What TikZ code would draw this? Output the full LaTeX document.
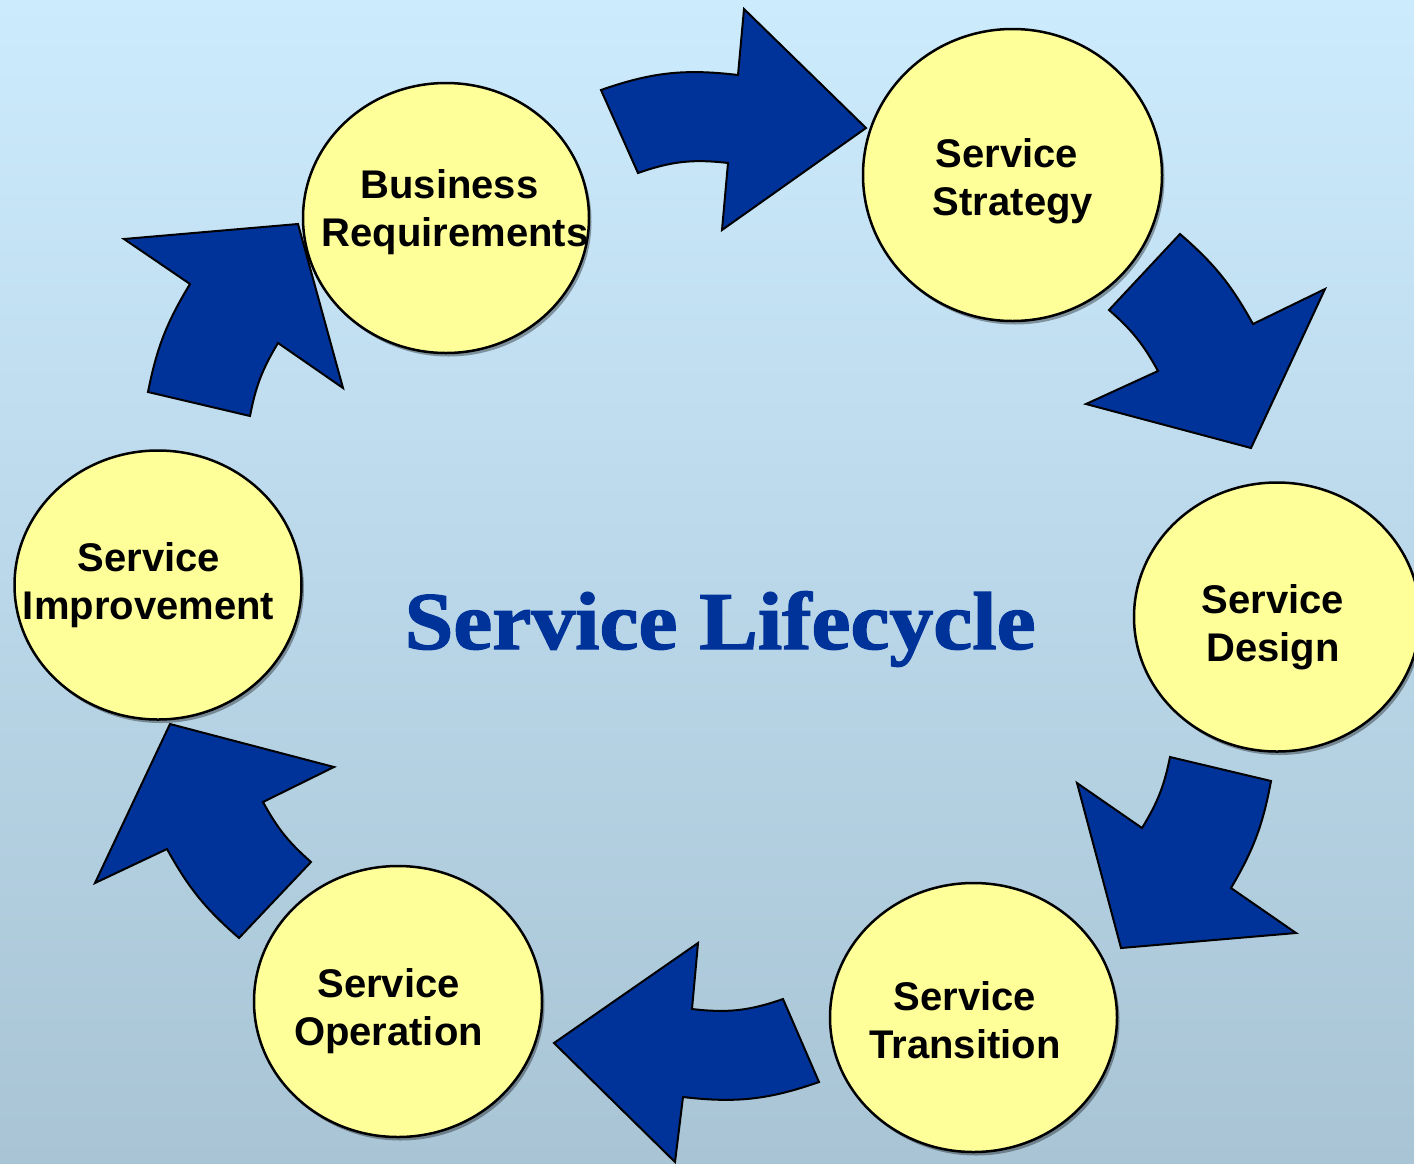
\documentclass[tikz,border=0pt]{standalone}
\usepackage{fontspec}
\newfontfamily\lblfont{Liberation Sans}
\newfontfamily\ttlfont{Liberation Serif}[BoldFeatures={FakeBold=1.6}]
\usetikzlibrary{shapes.geometric,shadows}
\definecolor{bgtop}{RGB}{204,235,253}
\definecolor{bgbot}{RGB}{168,196,213}
\definecolor{arrowblue}{RGB}{0,51,153}
\definecolor{stagefill}{RGB}{255,255,153}
\begin{document}
\begin{tikzpicture}[x=1pt,y=-1pt,
  stage/.style={ellipse, draw=black, line width=2.5pt, fill=stagefill, inner sep=0pt, outer sep=0pt,
    drop shadow={shadow xshift=2.5pt,shadow yshift=-3.5pt,fill=black,opacity=0.35}},
  lbl/.style={font=\lblfont\bfseries\fontsize{40}{48}\selectfont, anchor=base, inner sep=0pt},
  blockarrow/.style={fill=arrowblue, draw=black, line width=2pt, line join=miter}]
\useasboundingbox (0,0) rectangle (1414,1163);
\clip (0,0) rectangle (1414,1163);
\shade[top color=bgtop, bottom color=bgbot] (0,0) rectangle (1414,1163);

% stages
\node[stage, minimum width=286pt, minimum height=270pt] (br) at (446,218) {};
\node[stage, minimum width=299pt, minimum height=292pt] (strategy) at (1012.5,175) {};
\node[stage, minimum width=286pt, minimum height=269pt] (design) at (1277,617) {};
\node[stage, minimum width=287pt, minimum height=269pt] (transition) at (973.5,1017.5) {};
\node[stage, minimum width=288pt, minimum height=271pt] (operation) at (398,1001.5) {};
\node[stage, minimum width=287pt, minimum height=269pt] (improvement) at (158,585) {};

% labels
\node[lbl] (brA) at (449.5,198) {Business};
\node[lbl] (brB) at (455,246) {Requirements};
\node[lbl] (stA) at (1007,167) {Service};
\node[lbl] (stB) at (1013,215) {Strategy};
\node[lbl] (dsA) at (1273,613) {Service};
\node[lbl] (dsB) at (1273,661) {Design};
\node[lbl] (trA) at (965,1010) {Service};
\node[lbl] (trB) at (965,1058) {Transition};
\node[lbl] (opA) at (388.5,997) {Service};
\node[lbl] (opB) at (388.5,1045) {Operation};
\node[lbl] (imA) at (149,571) {Service};
\node[lbl] (imB) at (148.5,619) {Improvement};

% title
\node[font=\ttlfont\bfseries\fontsize{82}{90}\selectfont, text=arrowblue, anchor=base, inner sep=0pt] (title)
  at (720,649) {\scalebox{1.07}[1]{Service Lifecycle}};

% block arrows
\draw[blockarrow] (738,75) to[bend right=13] (601,90) -- (638,173) to[bend left=13] (728,163)
  -- (722,230) -- (866,128) -- (744,9) -- cycle;
\draw[blockarrow] (1253,324) to[bend right=10] (1180,234) -- (1109,310) to[bend left=10] (1158,371)
  -- (1086,404) -- (1251,448) -- (1325,289) -- cycle;
\draw[blockarrow] (1231,888) to[bend right=10] (1271,781) -- (1170,757) to[bend left=10] (1142,828)
  -- (1077,783) -- (1121,948) -- (1296,933) -- cycle;
\draw[blockarrow] (683,1097) to[bend right=13] (819,1082) -- (783,999) to[bend left=13] (692,1009)
  -- (698,943) -- (554,1043) -- (675,1162) -- cycle;
\draw[blockarrow] (167,849) to[bend right=10] (239,938) -- (311,862) to[bend left=10] (263,802)
  -- (334,767) -- (170,724) -- (95,883) -- cycle;
\draw[blockarrow] (190,284) to[bend right=10] (148,392) -- (250,416) to[bend left=10] (278,343)
  -- (343,388) -- (298,224) -- (124,239) -- cycle;
\end{tikzpicture}
\end{document}
